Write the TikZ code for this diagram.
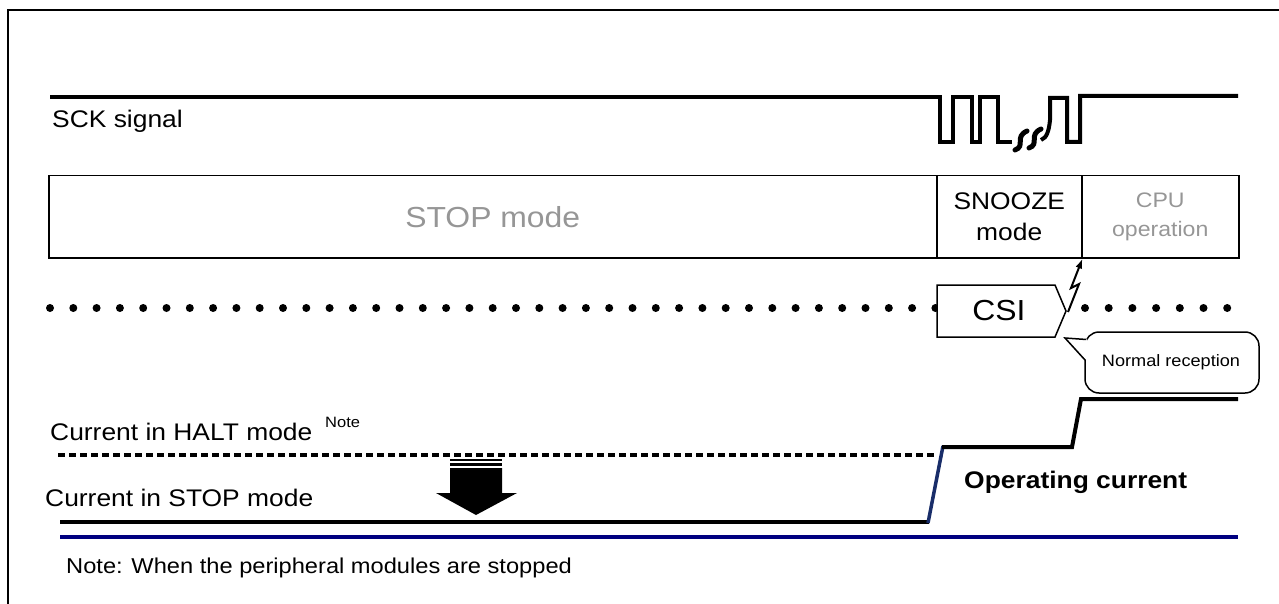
\documentclass[tikz,border=0pt]{standalone}
\usepackage{fontspec}
\setmainfont[FakeStretch=1.1]{Liberation Sans}
\usetikzlibrary{arrows.meta}
\definecolor{modegray}{RGB}{150,150,150}
\definecolor{navyline}{RGB}{0,0,128}
\definecolor{riseline}{RGB}{25,45,105}
\begin{document}
\begin{tikzpicture}[x=1pt,y=-1pt,
  lbl/.style={inner sep=0, anchor=base west, font=\fontsize{24}{29}\selectfont},
  modebox/.style={draw, line width=1.5, inner sep=0, anchor=north west, minimum height=82, align=center},
  wave/.style={line width=4, line join=miter},
  brk/.style={line width=5, line cap=round}]
\useasboundingbox (0,0) rectangle (1279,604);
% frame
\draw[line width=1.5] (8,604) -- (8,10) -- (1279,10);
% SCK signal
\node[lbl] (sck) at (52,128) {SCK signal};
\draw[wave] (50,97) -- (940,97) -- (940,142) -- (953,142) -- (953,97) -- (972,97) -- (972,142)
  -- (980,142) -- (980,97) -- (998,97) -- (998,142) -- (1012,142);
\draw[brk] (1015,150) .. controls (1026,146) and (1014,137) .. (1027,131);
\draw[brk] (1029,148) .. controls (1040,144) and (1028,135) .. (1041,129);
\draw[wave] (1041,140) .. controls (1047,138) and (1049,130) .. (1050,120) -- (1050,98) -- (1067,98) -- (1067,142) -- (1080,142) -- (1080,96) -- (1238,96);
% mode boxes
\node[modebox, minimum width=888, text=modegray, font=\fontsize{29}{34}\selectfont] (stop) at (48,175) {STOP mode};
\node[modebox, minimum width=145, font=\fontsize{24}{31}\selectfont] (snooze) at (936,175) {SNOOZE\\mode};
\node[modebox, minimum width=157, text=modegray, font=\fontsize{21}{29}\selectfont] (cpu) at (1081,175) {CPU\\operation};
% dotted row
\foreach \i in {0,...,38} \fill ({50+23.3*\i},308) circle (4);
\foreach \i in {0,...,6} \fill ({1085+23.7*\i},308) circle (4);
% CSI
\draw[line width=1.5, fill=white] (937,285) -- (1055,285) -- (1066,311) -- (1055,337) -- (937,337) -- cycle;
\node[inner sep=0, font=\fontsize{29}{34}\selectfont] (csi) at (999,311) {CSI};
\coordinate (boltstart) at (1068,312);
\draw[line width=2, -{Latex[length=10,width=7]}] (boltstart) -- (1079,284) -- (1071,288) -- (snooze.south east);
% callout
\draw[line width=1.5, fill=white, rounded corners=14] (1085,332) rectangle (1259,393);
\fill[white] (1065,338) -- (1087,339) -- (1087,361) -- cycle;
\coordinate (tail) at (1065,338);
\draw[line width=1.5] (1086.3,339.5) -- (tail) -- (1085,360);
\node[inner sep=0, font=\fontsize{16.5}{20}\selectfont] (normal) at (1171,362) {Normal reception};
% currents
\node[lbl] (halt) at (50,440) {Current in HALT mode};
\node[inner sep=0, anchor=base west, font=\fontsize{15}{18}\selectfont] (note) at (325,427) {Note};
\draw[line width=4.5, dash pattern=on 6.5 off 4.5] (58,455) -- (938,455);
\node[lbl] (stopcur) at (45,506) {Current in STOP mode};
\draw[line width=4] (60,522) -- (929,522);
\draw[line width=3.5, riseline] (928,523) -- (943,446);
\draw[wave] (942,447) -- (1072,447) -- (1081,399) -- (1238,399);
\node[lbl, font=\bfseries\fontsize{24}{29}\selectfont] (opcur) at (964,488) {Operating current};
% big arrow
\fill (450,459) rectangle (502,461);
\fill (450,463) rectangle (502,466);
\fill (450,468) -- (502,468) -- (502,493) -- (517,493) -- (476,515) -- (436,493) -- (450,493) -- cycle;
% blue line
\draw[line width=4, navyline] (60,537) -- (1238,537);
\node[inner sep=0, anchor=base west, font=\fontsize{21.5}{26}\selectfont] (footnote) at (66,573) {Note: When the peripheral modules are stopped};
\end{tikzpicture}
\end{document}
